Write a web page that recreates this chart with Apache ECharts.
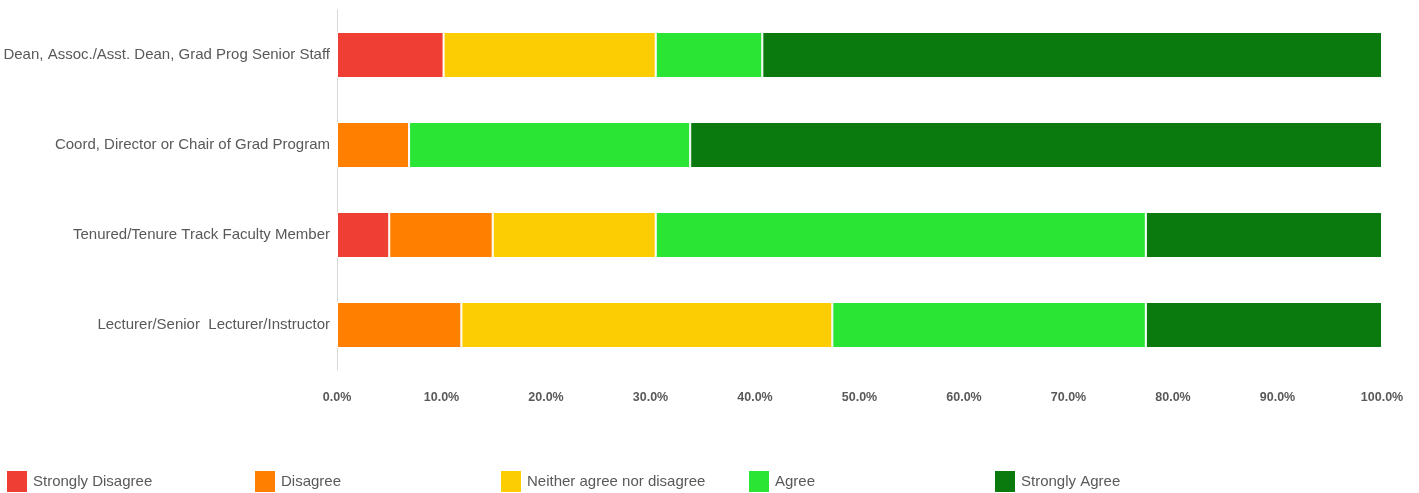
<!DOCTYPE html>
<html>
<head>
<meta charset="utf-8">
<script src="https://cdn.jsdelivr.net/npm/echarts@6/dist/echarts.min.js"></script>
<style>
  html, body { margin: 0; padding: 0; background: #fff; }
  #chart { width: 1419px; height: 493px; }
</style>
</head>
<body>
<div id="chart"></div>
<script>
// categories, top to bottom
var roles = [
    "Dean, Assoc./Asst. Dean, Grad Prog Senior Staff",
    "Coord, Director or Chair of Grad Program",
    "Tenured/Tenure Track Faculty Member",
    "Lecturer/Senior  Lecturer/Instructor"
];
// percent per response, same order as roles
var stronglyDisagree = [10.2, 0, 5.0, 0];
var disagree = [0, 6.9, 9.9, 11.9];
var neither = [20.3, 0, 15.6, 35.5];
var agree = [10.2, 26.9, 46.9, 30.0];
var stronglyAgree = [59.3, 66.2, 22.6, 22.6];

var seriesNames = ["Strongly Disagree", "Disagree", "Neither agree nor disagree", "Agree", "Strongly Agree"];
var seriesData = [stronglyDisagree, disagree, neither, agree, stronglyAgree];
var colors = ["#ef3e33", "#ff8000", "#fdcd04", "#2be535", "#0a7a0e"];
var legendLeft = [5, 253, 499, 747, 993];

var chart = echarts.init(document.getElementById("chart"));

var series = [];
var legends = [];
for (var i = 0; i < seriesNames.length; i++) {
    series.push({
        name: seriesNames[i],
        type: "bar",
        stack: "total",
        barWidth: 46,
        data: seriesData[i],
        itemStyle: {
            color: colors[i],
            borderColor: "#fff",
            borderWidth: 1
        }
    });
    legends.push({
        data: [seriesNames[i]],
        left: legendLeft[i],
        top: 469,
        padding: 0,
        itemWidth: 22,
        itemHeight: 23,
        itemGap: 9,
        icon: "rect",
        selectedMode: false,
        textStyle: {
            fontFamily: "Liberation Sans",
            fontSize: 15,
            color: "#595959"
        }
    });
}

var option = {
    animation: false,
    color: colors,
    grid: {
        left: 337,
        right: 37,
        top: 10,
        bottom: 123
    },
    legend: legends,
    xAxis: {
        type: "value",
        min: 0,
        max: 100,
        interval: 10,
        axisLine: { show: false },
        axisTick: { show: false },
        splitLine: { show: false },
        axisLabel: {
            margin: 21,
            fontFamily: "Liberation Sans",
            fontSize: 12.5,
            fontWeight: "bold",
            color: "#595959",
            formatter: function (v) {
                return v.toFixed(1) + "%";
            }
        }
    },
    yAxis: {
        type: "category",
        inverse: true,
        data: roles,
        axisLine: { show: true, lineStyle: { color: "#d9d9d9", width: 1 } },
        axisTick: { show: false },
        axisLabel: {
            margin: 7,
            fontFamily: "Liberation Sans",
            fontSize: 15,
            color: "#595959"
        }
    },
    series: series
};
chart.setOption(option);
</script>
</body>
</html>
